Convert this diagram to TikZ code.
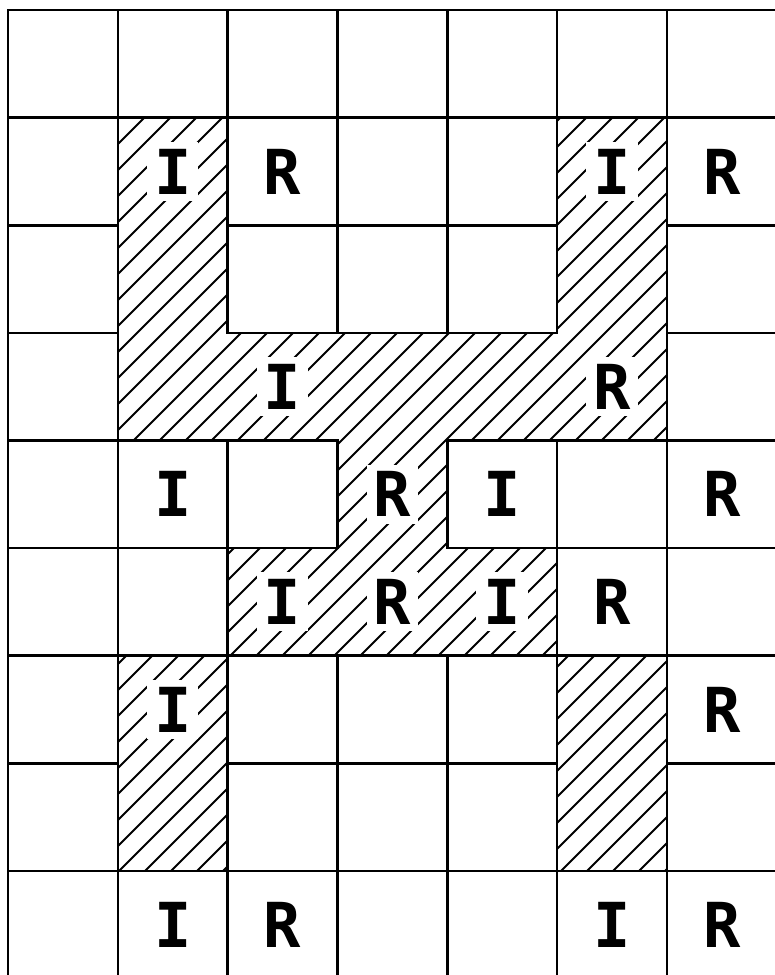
\documentclass[tikz,border=0pt]{standalone}
\usepackage{fontspec}
\setmonofont{DejaVu Sans Mono}
\usepackage{tikz}

% outlines of the hatched zones, in cell units
\newcommand{\zoneMain}{(1,1) -- (2,1) -- (2,3) -- (5,3) -- (5,1) -- (6,1) -- (6,4)
  -- (4,4) -- (4,5) -- (5,5) -- (5,6) -- (2,6) -- (2,5) -- (3,5) -- (3,4) -- (1,4) -- cycle}
\newcommand{\zoneLeft}{(1,6) rectangle (2,8)}
\newcommand{\zoneRight}{(5,6) rectangle (6,8)}

\begin{document}
\begin{tikzpicture}[
  x=109.8pt,y=-107.6pt,
  gridline/.style={line width=2.6pt,line cap=rect},
  zone/.style={draw,fill=white,line width=2.6pt},
  hatch/.style={line width=2pt},
  cell/.style={font=\ttfamily\bfseries\fontsize{62}{62}\selectfont,
    fill=white,inner sep=7pt}
]
  \useasboundingbox (-8pt,10pt) rectangle (767pt,-965pt);
  \clip (-8pt,10pt) rectangle (767pt,-965pt);

  % grid
  \foreach \i in {0,...,6} \draw[gridline] (\i,0) -- (\i,9.5);
  \foreach \j in {0,...,8} \draw[gridline] (0,\j) -- (7.5,\j);

  % hatched zones
  \draw[zone] \zoneMain \zoneLeft \zoneRight;
  \begin{scope}
    \clip \zoneMain \zoneLeft \zoneRight;
    \foreach \k in {7,...,58}
      \draw[hatch] ({(\k*26-990)*1pt},-1000pt) -- ++(1100pt,1100pt);
  \end{scope}

  % letters
  \node[cell] (r1c1) at (1.5,1.5) {I};
  \node[cell] (r1c2) at (2.5,1.5) {R};
  \node[cell] (r1c5) at (5.5,1.5) {I};
  \node[cell] (r1c6) at (6.5,1.5) {R};
  \node[cell] (r3c2) at (2.5,3.5) {I};
  \node[cell] (r3c5) at (5.5,3.5) {R};
  \node[cell] (r4c1) at (1.5,4.5) {I};
  \node[cell] (r4c3) at (3.5,4.5) {R};
  \node[cell] (r4c4) at (4.5,4.5) {I};
  \node[cell] (r4c6) at (6.5,4.5) {R};
  \node[cell] (r5c2) at (2.5,5.5) {I};
  \node[cell] (r5c3) at (3.5,5.5) {R};
  \node[cell] (r5c4) at (4.5,5.5) {I};
  \node[cell] (r5c5) at (5.5,5.5) {R};
  \node[cell] (r6c1) at (1.5,6.5) {I};
  \node[cell] (r6c6) at (6.5,6.5) {R};
  \node[cell] (r8c1) at (1.5,8.5) {I};
  \node[cell] (r8c2) at (2.5,8.5) {R};
  \node[cell] (r8c5) at (5.5,8.5) {I};
  \node[cell] (r8c6) at (6.5,8.5) {R};
\end{tikzpicture}
\end{document}
